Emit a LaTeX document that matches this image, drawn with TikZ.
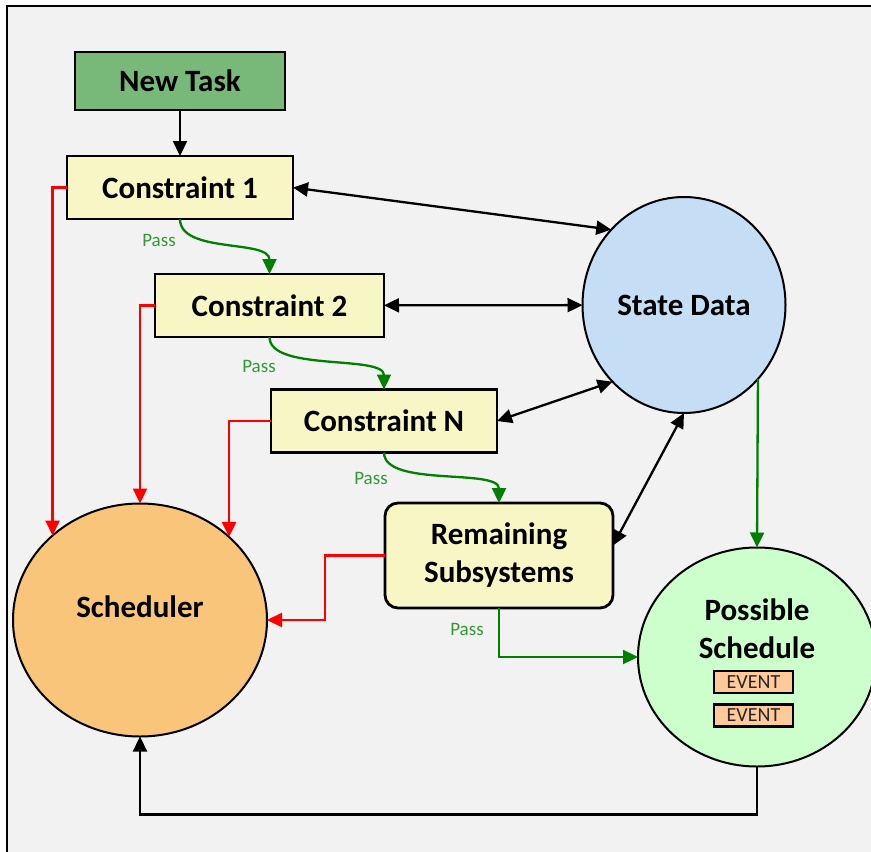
\documentclass[tikz,border=0pt]{standalone}
\usepackage{fontspec}
\setmainfont{Carlito}
\usetikzlibrary{arrows.meta,shapes.geometric}

\definecolor{bgGray}{HTML}{F2F2F2}
\definecolor{taskGreen}{HTML}{78B878}
\definecolor{consYellow}{HTML}{F8F6C4}
\definecolor{stateBlue}{HTML}{C5DDF5}
\definecolor{schedOrange}{HTML}{F8C57A}
\definecolor{possGreen}{HTML}{CCFFCC}
\definecolor{eventPeach}{HTML}{FFC99A}
\definecolor{passGreen}{HTML}{339933}
\definecolor{flowGreen}{HTML}{008000}

\newcommand\boxfont{\fontsize{31}{38}\selectfont\bfseries}
\newcommand\passfont{\fontsize{19}{23}\selectfont}
\newcommand\eventfont{\fontsize{20}{24}\selectfont}

\begin{document}
\begin{tikzpicture}[x=1pt,y=-1pt] % pixel grid, y down
    \tikzset{%
        >={Triangle[length=15pt,width=14pt]}, % option for nice arrows
        every node/.style={inner sep=0pt,outer sep=0pt},
        cons/.style={draw,line width=2.8pt,fill=consYellow,
                minimum width=226pt,minimum height=63pt,font=\boxfont},
        bubble/.style={ellipse,draw,line width=2pt,font=\boxfont},
        event/.style={draw,line width=2.6pt,fill=eventPeach,text=black!85,
                minimum width=79pt,minimum height=22pt,font=\eventfont},
        pass/.style={text=passGreen,font=\passfont},
        link/.style={<->,line width=2.3pt},
        fail/.style={->,line width=2.3pt,red},
        ok/.style={->,line width=2.3pt,flowGreen}%
    }
    \useasboundingbox (0,0) rectangle (871,852);

    %% frame

    \fill[bgGray] (7,6) rectangle (871,852);
    \draw[line width=2.2pt] (7,852) -- (7,6) -- (871,6);

    %% boxes and bubbles

    \node[cons,fill=taskGreen,minimum width=210pt,minimum height=58pt] (task) at (180,81) {New Task};
    \node[cons] (c1) at (180,187.5) {Constraint 1};
    \node[cons,minimum width=229pt] (c2) at (269.5,305.5) {Constraint 2};
    \node[cons] (cN) at (384,421) {Constraint N};
    \node[cons,rounded corners=13pt,minimum width=228pt,minimum height=105pt,
        align=center] (rem) at (499,555.5) {Remaining\\Subsystems};

    \node[bubble,fill=stateBlue,minimum width=203pt,minimum height=216pt] (sd) at (684,305) {State Data};
    \node[bubble,fill=schedOrange,minimum width=254pt,minimum height=233pt,
        label={[font=\boxfont,yshift=13pt]center:Scheduler}] (sched) at (140,620) {};
    \node[bubble,fill=possGreen,minimum width=238pt,minimum height=219pt,
        label={[font=\boxfont,align=center,yshift=28pt]center:Possible\\Schedule}] (pos) at (757,657) {};
    \node[event] (ev1) at (753.5,682) {EVENT};
    \node[event] (ev2) at (753.5,715.5) {EVENT};

    %% pass labels

    \node[pass] (pass1) at (159,240) {Pass};
    \node[pass] (pass2) at (259,366) {Pass};
    \node[pass] (pass3) at (371,478) {Pass};
    \node[pass] (pass4) at (467,629) {Pass};

    %% connectors

    \draw[->,line width=2.3pt] (task) -- (c1);
    \draw[link] (c1.east) -- (sd.134.6);
    \draw[link] (c2) -- (sd);
    \draw[link] (cN.east) -- (sd.-133);
    \draw[link] (rem.5) -- (sd.south);

    \draw[ok] (c1.south) .. controls +(0,35) and +(0,-35) .. (c2.north);
    \draw[ok] (c2.south) .. controls +(0,35) and +(0,-35) .. (cN.north);
    \draw[ok] (cN.south) .. controls +(0,35) and +(0,-35) .. (rem.north);
    \draw[ok] (rem.south) |- (pos.west);
    \draw[ok] (sd.-45.7) -- (pos.north);

    \draw[fail] (c1.west) -| (sched.136.8);
    \draw[fail] (c2.west) -| (sched.north);
    \draw[fail] (cN.west) -| (sched.43.2);
    \draw[fail] (rem.west) -- ++(-60,0) |- (sched.east);

    \draw[->,line width=2.3pt] (pos.south) -- ++(0,48) -| (sched.south);
\end{tikzpicture}
\end{document}
